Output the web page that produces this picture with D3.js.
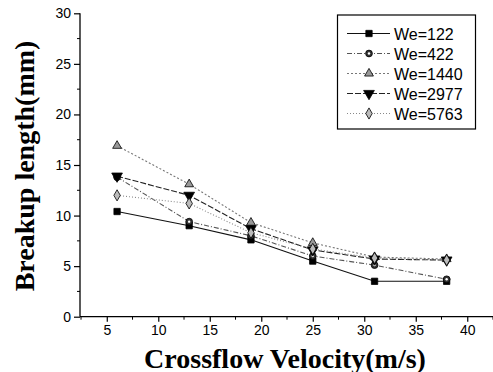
<!DOCTYPE html>
<html><head><meta charset="utf-8">
<script src="https://cdn.jsdelivr.net/npm/d3@7"></script>
<style>
body{margin:0;background:#fff;}
svg{display:block;}
</style></head>
<body>
<svg id="c" width="493" height="372"></svg>
<script>
const velocities = [6, 13, 19, 25, 31, 38];
const seriesNames = ["We=122", "We=422", "We=1440", "We=2977", "We=5763"];
const we122  = [10.4, 9.0, 7.6, 5.5, 3.5, 3.5];
const we422  = [13.8, 9.4, 8.0, 6.0, 5.1, 3.7];
const we1440 = [16.9, 13.1, 9.3, 7.3, 5.9, 5.7];
const we2977 = [13.9, 12.0, 8.7, 6.6, 5.7, 5.6];
const we5763 = [12.0, 11.2, 8.3, 6.7, 5.8, 5.6];
const xTicks = [5, 10, 15, 20, 25, 30, 35, 40];
const yTicks = [0, 5, 10, 15, 20, 25, 30];

const svg = d3.select("#c");
const x = d3.scaleLinear().domain([2.4, 42.5]).range([80, 493]);
const y = d3.scaleLinear().domain([0, 30]).range([316.7, 13.3]);

const styles = [
  {stroke:"#111", dash:null, sym:d3.symbolSquare, fill:"#000", size:40},
  {stroke:"#555", dash:"5,2,1,2", sym:d3.symbolCircle, fill:"#333", size:36},
  {stroke:"#777", dash:"2,2", sym:d3.symbolTriangle, fill:"#999", size:34},
  {stroke:"#222", dash:"6,2", sym:d3.symbolTriangle, fill:"#000", size:50, rot:180},
  {stroke:"#888", dash:"1,2", sym:d3.symbolDiamond, fill:"#bbb", size:36}
];
const data = [we122, we422, we1440, we2977, we5763];

// axes
const xAxis = d3.axisBottom(x).tickValues(xTicks).tickSize(5).tickPadding(3).tickFormat(d3.format("d"));
const gx = svg.append("g").attr("transform","translate(0,316.7)").call(xAxis);
gx.select(".domain").attr("d","M80,0H493").attr("stroke","#000").attr("stroke-width",1.3);
gx.selectAll(".tick text").attr("font-family","Liberation Sans, Arial, sans-serif").attr("font-size",14).attr("fill","#000");
gx.selectAll(".tick line").attr("stroke","#000").attr("stroke-width",1.2);
const xMinor = d3.range(2.5, 42.6, 5);
svg.append("g").selectAll("line").data(xMinor).join("line")
  .attr("x1",d=>x(d)).attr("x2",d=>x(d)).attr("y1",316.7).attr("y2",319.7)
  .attr("stroke","#000").attr("stroke-width",1);

const yAxis = d3.axisLeft(y).tickValues(yTicks).tickSize(6).tickPadding(3);
const gy = svg.append("g").attr("transform","translate(80,0)").call(yAxis);
gy.select(".domain").attr("d","M0,316.7V13.3").attr("stroke","#000").attr("stroke-width",1.3);
gy.selectAll(".tick text").attr("font-family","Liberation Sans, Arial, sans-serif").attr("font-size",14).attr("fill","#000");
gy.selectAll(".tick line").attr("stroke","#000").attr("stroke-width",1.2);
const yMinor = d3.range(2.5, 30, 5);
svg.append("g").selectAll("line").data(yMinor).join("line")
  .attr("x1",77).attr("x2",80).attr("y1",d=>y(d)).attr("y2",d=>y(d))
  .attr("stroke","#000").attr("stroke-width",1);

// titles
svg.append("text").attr("x",285).attr("y",367.5).attr("text-anchor","middle")
  .attr("font-family","Liberation Serif, Times New Roman, serif").attr("font-weight","bold")
  .attr("font-size",28).text("Crossflow Velocity(m/s)");
svg.append("text").attr("transform","translate(34,166) rotate(-90)").attr("text-anchor","middle")
  .attr("font-family","Liberation Serif, Times New Roman, serif").attr("font-weight","bold")
  .attr("font-size",28).text("Breakup length(mm)");

// lines
const line = d3.line().x((d,i)=>x(velocities[i])).y(d=>y(d));
data.forEach((vals,k)=>{
  const s = styles[k];
  svg.append("path").datum(vals).attr("d",line).attr("fill","none")
    .attr("stroke",s.stroke).attr("stroke-width",1.1).attr("stroke-dasharray",s.dash);
});
function marker(g, s, cx, cy){
  g.append("path").attr("d", d3.symbol().type(s.sym).size(s.size)())
    .attr("transform",`translate(${cx},${cy})${s.rot?` rotate(${s.rot})`:""}`)
    .attr("fill",s.fill).attr("stroke","#000").attr("stroke-width",0.8);
  if (s.sym===d3.symbolCircle){
    g.append("circle").attr("cx",cx).attr("cy",cy).attr("r",1.2).attr("fill","#fff");
  }
}
data.forEach((vals,k)=>{
  const g = svg.append("g");
  vals.forEach((v,i)=>marker(g, styles[k], x(velocities[i]), y(v)));
});

// legend
const lg = svg.append("g");
lg.append("rect").attr("x",337.5).attr("y",15).attr("width",138).attr("height",114)
  .attr("fill","#fff").attr("stroke","#000").attr("stroke-width",1.2);
seriesNames.forEach((name,k)=>{
  const s = styles[k];
  const ly = 33.5 + k*20;
  lg.append("line").attr("x1",347).attr("x2",390).attr("y1",ly).attr("y2",ly)
    .attr("stroke",s.stroke).attr("stroke-width",1.1).attr("stroke-dasharray",s.dash);
  marker(lg, s, 369, ly);
  lg.append("text").attr("x",394).attr("y",ly+6).attr("font-family","Liberation Sans, Arial, sans-serif")
    .attr("font-size",16).attr("fill","#000").text(name);
});
</script>
</body></html>
